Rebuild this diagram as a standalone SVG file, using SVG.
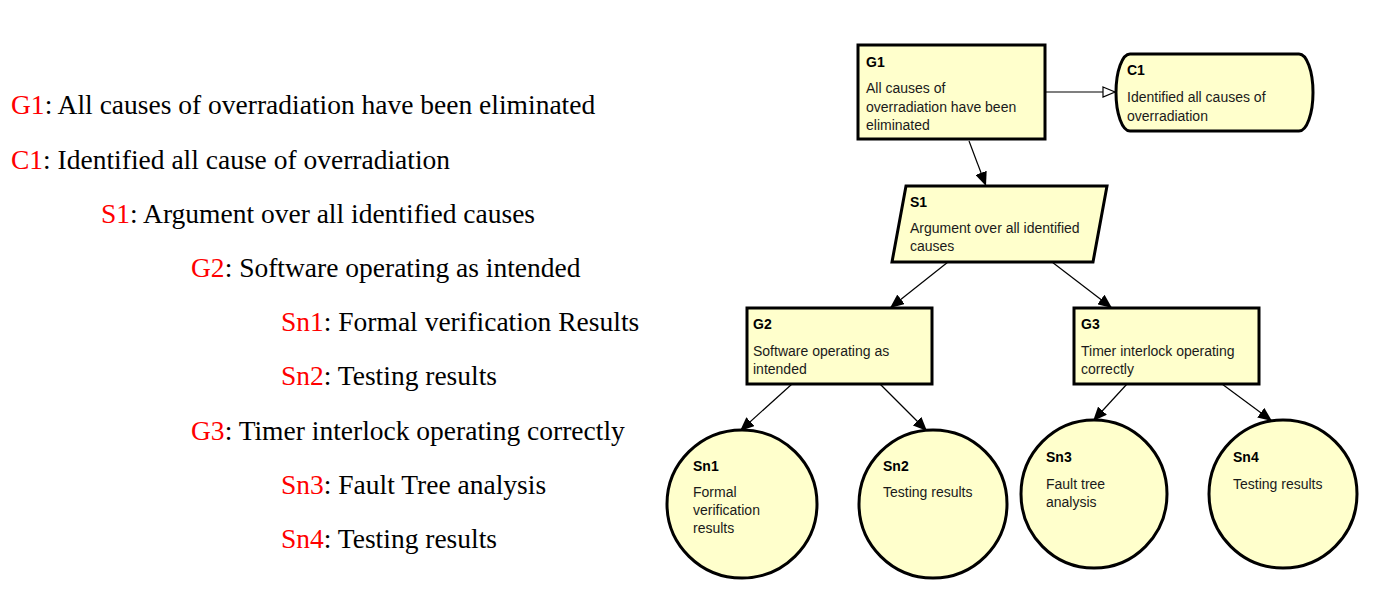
<svg xmlns="http://www.w3.org/2000/svg" width="1378" height="589" viewBox="0 0 1378 589">
<style>
.lt{font-family:"Liberation Serif","Times New Roman",serif;font-size:27.5px;fill:#000}
.red{fill:#ff0000}
.node{fill:#ffffcc;stroke:#000;stroke-width:3}
.id{font-family:"Liberation Sans",Arial,sans-serif;font-size:14px;font-weight:bold;fill:#000}
.tx{font-family:"Liberation Sans",Arial,sans-serif;font-size:14px;fill:#1a1a1a}
.edge{stroke:#000;stroke-width:1.2;fill:none}
</style>
<defs>
<marker id="solid" viewBox="0 0 14 12" refX="14" refY="6" markerWidth="14" markerHeight="12" markerUnits="userSpaceOnUse" orient="auto">
<path d="M0,0 L14,6 L0,12 Z" fill="#000"/>
</marker>
<marker id="hollow" viewBox="0 0 14 12" refX="13" refY="6" markerWidth="14" markerHeight="12" markerUnits="userSpaceOnUse" orient="auto">
<path d="M1,1 L13,6 L1,11 Z" fill="#fff" stroke="#000" stroke-width="1.2"/>
</marker>
</defs>

<g id="outline">
<text class="lt" x="11" y="114"><tspan class="red">G1</tspan>: All causes of overradiation have been eliminated</text>
<text class="lt" x="11" y="169"><tspan class="red">C1</tspan>: Identified all cause of overradiation</text>
<text class="lt" x="101" y="223"><tspan class="red">S1</tspan>: Argument over all identified causes</text>
<text class="lt" x="191" y="277"><tspan class="red">G2</tspan>: Software operating as intended</text>
<text class="lt" x="281" y="331"><tspan class="red">Sn1</tspan>: Formal verification Results</text>
<text class="lt" x="281" y="385"><tspan class="red">Sn2</tspan>: Testing results</text>
<text class="lt" x="191" y="440"><tspan class="red">G3</tspan>: Timer interlock operating correctly</text>
<text class="lt" x="281" y="494"><tspan class="red">Sn3</tspan>: Fault Tree analysis</text>
<text class="lt" x="281" y="548"><tspan class="red">Sn4</tspan>: Testing results</text>
</g>

<g id="connectors">
<line class="edge" x1="1045" y1="92" x2="1115" y2="92" marker-end="url(#hollow)"/>
<line class="edge" x1="969" y1="141" x2="986" y2="186" marker-end="url(#solid)"/>
<line class="edge" x1="948" y1="262" x2="890" y2="308" marker-end="url(#solid)"/>
<line class="edge" x1="1052" y1="262" x2="1112" y2="308" marker-end="url(#solid)"/>
<line class="edge" x1="792" y1="384" x2="740" y2="431" marker-end="url(#solid)"/>
<line class="edge" x1="880" y1="384" x2="927" y2="431" marker-end="url(#solid)"/>
<line class="edge" x1="1127" y1="384" x2="1093" y2="421" marker-end="url(#solid)"/>
<line class="edge" x1="1222" y1="384" x2="1272" y2="421" marker-end="url(#solid)"/>
</g>

<g id="G1">
<rect class="node" x="858" y="45" width="187" height="94"/>
<text class="id" x="866" y="67">G1</text>
<text class="tx" x="866" y="93">All causes of</text>
<text class="tx" x="866" y="112">overradiation have been</text>
<text class="tx" x="866" y="130">eliminated</text>
</g>

<g id="C1">
<rect class="node" x="1116" y="54" width="197" height="77" rx="14" ry="38.5"/>
<text class="id" x="1127" y="75">C1</text>
<text class="tx" x="1127" y="102">Identified all causes of</text>
<text class="tx" x="1127" y="121">overradiation</text>
</g>

<g id="S1">
<polygon class="node" points="906,186 1107,186 1093,262 892,262"/>
<text class="id" x="910" y="207">S1</text>
<text class="tx" x="910" y="233">Argument over all identified</text>
<text class="tx" x="910" y="251">causes</text>
</g>

<g id="G2">
<rect class="node" x="747" y="308" width="185" height="76"/>
<text class="id" x="753" y="329">G2</text>
<text class="tx" x="753" y="356">Software operating as</text>
<text class="tx" x="753" y="374">intended</text>
</g>

<g id="G3">
<rect class="node" x="1074" y="308" width="185" height="76"/>
<text class="id" x="1081" y="329">G3</text>
<text class="tx" x="1081" y="356">Timer interlock operating</text>
<text class="tx" x="1081" y="374">correctly</text>
</g>

<g id="Sn1">
<ellipse class="node" cx="742" cy="504" rx="75" ry="74"/>
<text class="id" x="693" y="471">Sn1</text>
<text class="tx" x="693" y="497">Formal</text>
<text class="tx" x="693" y="515">verification</text>
<text class="tx" x="693" y="533">results</text>
</g>

<g id="Sn2">
<ellipse class="node" cx="933" cy="504" rx="74" ry="74"/>
<text class="id" x="883" y="471">Sn2</text>
<text class="tx" x="883" y="497">Testing results</text>
</g>

<g id="Sn3">
<ellipse class="node" cx="1094" cy="494" rx="73" ry="74"/>
<text class="id" x="1046" y="462">Sn3</text>
<text class="tx" x="1046" y="489">Fault tree</text>
<text class="tx" x="1046" y="507">analysis</text>
</g>

<g id="Sn4">
<ellipse class="node" cx="1283" cy="494" rx="74" ry="74"/>
<text class="id" x="1233" y="462">Sn4</text>
<text class="tx" x="1233" y="489">Testing results</text>
</g>
</svg>
